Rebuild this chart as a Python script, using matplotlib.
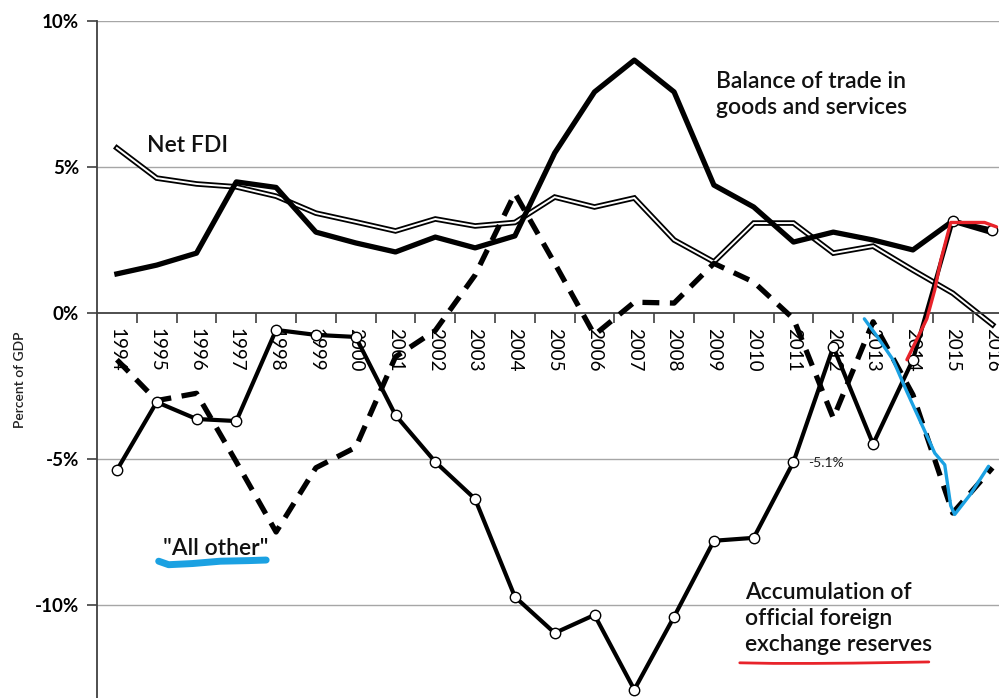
import matplotlib
matplotlib.use("Agg")
import matplotlib.pyplot as plt
import numpy as np

plt.rcParams['font.family'] = ['Lato', 'DejaVu Sans']

years = [str(y) for y in range(1994, 2017)]

trade_balance = [1.34, 1.64, 2.05, 4.49, 4.30, 2.77, 2.40, 2.09, 2.60, 2.23, 2.64,
                 5.48, 7.57, 8.66, 7.57, 4.38, 3.63, 2.43, 2.77, 2.50, 2.16, 3.15, 2.75]

net_fdi = [5.65, 4.62, 4.42, 4.32, 4.00, 3.42, 3.12, 2.81, 3.22, 2.98, 3.10,
           3.97, 3.63, 3.94, 2.50, 1.75, 3.08, 3.08, 2.05, 2.29, 1.47, 0.68, -0.40]

reserves = [-5.38, -3.05, -3.63, -3.70, -0.58, -0.75, -0.82, -3.50, -5.10, -6.37, -9.72,
            -10.96, -10.34, -12.90, -10.40, -7.80, -7.70, -5.10, -1.16, -4.49, -1.60, 3.15, 2.85]

all_other = [-1.60, -3.00, -2.75, -5.10, -7.50, -5.30, -4.60, -1.50, -0.60, 1.30, 4.10,
             1.70, -0.75, 0.37, 0.34, 1.70, 1.06, -0.20, -3.60, -0.30, -2.80, -6.85, -5.30]

# hand-drawn highlight strokes (category index, percent)
blue_stroke_x = [18.78, 19.10, 19.50, 19.85, 20.25, 20.55, 20.80, 20.95, 21.05, 21.45, 21.90]
blue_stroke_y = [-0.20, -0.80, -1.60, -2.70, -3.90, -4.80, -5.20, -6.60, -6.90, -6.20, -5.25]
red_stroke_x = [19.85, 20.10, 20.35, 20.55, 20.70, 20.95, 21.40, 21.80, 22.10]
red_stroke_y = [-1.60, -0.90, -0.20, 0.80, 1.80, 3.10, 3.10, 3.10, 2.95]
blue_underline_x = [1.05, 1.30, 1.90, 2.60, 3.30, 3.75]
blue_underline_y = [-8.50, -8.62, -8.58, -8.50, -8.48, -8.46]
red_underline_x = [15.65, 16.50, 17.50, 18.50, 19.50, 20.40]
red_underline_y = [-11.98, -12.00, -12.00, -11.99, -11.97, -11.95]

fig = plt.figure(figsize=(9.99, 6.98), dpi=100)
# axes extends beyond the figure on the right and bottom (cropped chart)
ax = fig.add_axes([97/999, (698-751)/698, 915.4/999, (751-21)/698])
ax.set_xlim(-0.5, 22.5)
ax.set_ylim(-15, 10)

x = np.arange(len(years))

for yv in [10, 5, -5, -10]:
    ax.axhline(yv, color='#a6a6a6', lw=1.0, zorder=0)

# Net FDI double line
ax.plot(x, net_fdi, color='black', lw=4.0, solid_joinstyle='miter', zorder=2)
ax.plot(x, net_fdi, color='white', lw=1.4, solid_joinstyle='miter', zorder=2.1)

# Balance of trade
ax.plot(x, trade_balance, color='black', lw=3.8, solid_joinstyle='round', zorder=3)

# All other (dashed)
ax.plot(x, all_other, color='black', lw=3.8, dashes=(3.2, 2.0), zorder=3)

# Reserves
ax.plot(x, reserves, color='black', lw=3.0, marker='o', markersize=7.5,
        markerfacecolor='white', markeredgecolor='black', markeredgewidth=1.0, zorder=4)

# hand-drawn strokes
ax.plot(blue_stroke_x, blue_stroke_y, color='#1ba1e2', lw=2.4, zorder=5,
        solid_capstyle='round', solid_joinstyle='round')
ax.plot(red_stroke_x, red_stroke_y, color='#e8232a', lw=2.4, zorder=5,
        solid_capstyle='round', solid_joinstyle='round')
ax.plot(blue_underline_x, blue_underline_y, color='#1ba1e2', lw=5.0, zorder=5,
        solid_capstyle='round')
ax.plot(red_underline_x, red_underline_y, color='#e8232a', lw=2.0, zorder=5,
        solid_capstyle='round')

# spines
for s in ['top', 'right']:
    ax.spines[s].set_visible(False)
ax.spines['bottom'].set_position(('data', 0))
ax.spines['bottom'].set_linewidth(1.3)
ax.spines['left'].set_linewidth(1.3)
ax.spines['left'].set_color('#404040')
ax.spines['bottom'].set_color('#404040')

ax.set_yticks([10, 5, 0, -5, -10])
ax.set_yticklabels(['10%', '5%', '0%', '-5%', '-10%'], fontsize=13.5, fontweight='bold')
ax.tick_params(axis='y', direction='out', length=7, width=1.2, color='#404040', pad=6)

ax.set_xticks(x)
ax.set_xticklabels(years, rotation=270, fontsize=13.5)
ax.tick_params(axis='x', which='major', length=0, pad=11)
ax.set_xticks(np.arange(0.5, 22.5, 1.0), minor=True)
ax.tick_params(axis='x', which='minor', direction='out', length=7, width=1.2, color='#404040')
for lab in ax.get_xticklabels():
    lab.set_verticalalignment('top')

fig.text(20/999, 1 - 380/698, 'Percent of GDP', rotation=90, fontsize=10,
         ha='center', va='center', color='#222222', fontweight='semibold')

txt = dict(fontsize=16.5, fontweight='semibold', color='#111111')
ax.text(0.75, 5.75, 'Net FDI', ha='left', va='center', **txt)
ax.text(15.05, 7.47, 'Balance of trade in\ngoods and services',
        ha='left', va='center', linespacing=1.3, **txt)
ax.text(15.78, -10.45, 'Accumulation of\nofficial foreign\nexchange reserves',
        ha='left', va='center', linespacing=1.3, **txt)
ax.text(1.16, -8.05, '"All other"', ha='left', va='center', **txt)
ax.text(17.36, -5.14, '-5.1%', fontsize=10, ha='left', va='center', color='#222222')

fig.savefig('out.png', dpi=100)
